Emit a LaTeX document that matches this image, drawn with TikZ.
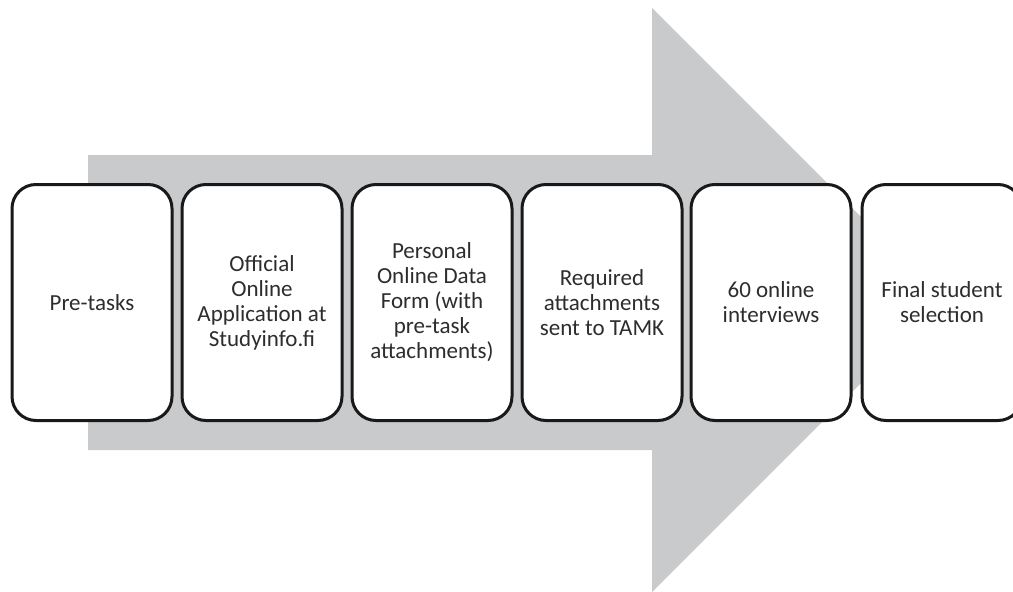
\documentclass[tikz,border=0pt]{standalone}
\usepackage{fontspec}
\setmainfont{Carlito}
\definecolor{arrowgray}{RGB}{201,202,204}
\definecolor{txtgray}{RGB}{45,45,45}
\begin{document}
\begin{tikzpicture}[x=1pt,y=-1pt,
  stage/.style={draw=black!90,line width=3pt,rounded corners=24pt,fill=white,
    minimum width=160pt,minimum height=236pt,align=center,text=txtgray,
    font=\fontsize{23pt}{25pt}\selectfont,inner sep=0pt}]
\useasboundingbox (0,0) rectangle (1013,592);
\clip (0,0) rectangle (1013,592);
\fill[arrowgray] (88,155) -- (652,155) -- (652,8) -- (944,300) -- (652,592) -- (652,450) -- (88,450) -- cycle;
\node[stage] (s1) at (92,302.5) {Pre-tasks};
\node[stage] (s2) at (262,302.5) {Official\\Online\\Application at\\Studyinfo.fi};
\node[stage] (s3) at (432,302.5) {Personal\\Online Data\\Form (with\\pre-task\\attachments)};
\node[stage] (s4) at (602,302.5) {Required\\attachments\\sent to TAMK};
\node[stage] (s5) at (771,302.5) {60 online\\interviews};
\node[stage] (s6) at (942,302.5) {Final student\\selection};
\end{tikzpicture}
\end{document}
